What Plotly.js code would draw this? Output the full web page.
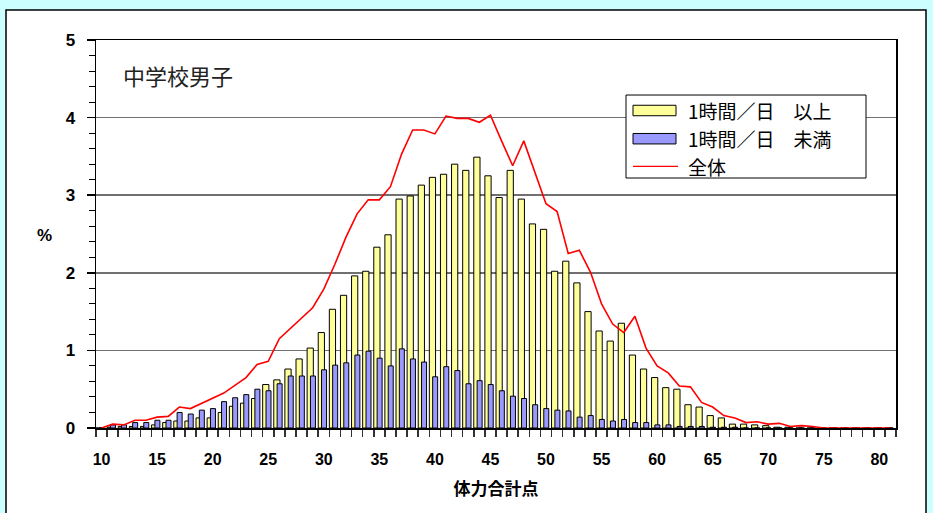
<!DOCTYPE html>
<html>
<head>
<meta charset="utf-8">
<script src="https://cdn.plot.ly/plotly-3.0.1.min.js"></script>
<style>html,body{margin:0;padding:0;background:#ccffff;}#chart{width:933px;height:513px;}</style>
</head>
<body>
<div id="chart"></div>
<script>
// 体力合計点 (total physical fitness score) categories
const scores = [10,11,12,13,14,15,16,17,18,19,20,21,22,23,24,25,26,27,28,29,30,31,32,33,34,35,36,37,38,39,40,41,42,43,44,45,46,47,48,49,50,51,52,53,54,55,56,57,58,59,60,61,62,63,64,65,66,67,68,69,70,71,72,73,74,75,76,77,78,79,80,81];

// 1時間／日 以上 (%)
const over1h = [0,0.01,0.02,0.02,0.02,0.04,0.07,0.09,0.09,0.13,0.13,0.20,0.28,0.32,0.38,0.56,0.62,0.76,0.89,1.03,1.23,1.53,1.71,1.96,2.02,2.33,2.49,2.95,2.99,3.13,3.23,3.27,3.40,3.32,3.49,3.25,2.97,3.32,2.95,2.63,2.56,2.02,2.15,1.87,1.50,1.25,1.12,1.35,0.94,0.76,0.65,0.52,0.50,0.30,0.27,0.16,0.13,0.05,0.05,0.04,0.03,0.01,0.01,0,0,0,0,0,0,0,0,0];

// 1時間／日 未満 (%)
const under1h = [0,0.04,0.04,0.07,0.07,0.10,0.10,0.20,0.18,0.23,0.25,0.34,0.39,0.43,0.50,0.48,0.57,0.67,0.67,0.67,0.75,0.81,0.84,0.94,0.99,0.90,0.80,1.02,0.89,0.85,0.66,0.79,0.74,0.57,0.61,0.56,0.48,0.41,0.38,0.30,0.25,0.23,0.22,0.14,0.16,0.11,0.09,0.11,0.07,0.07,0.04,0.04,0.02,0.02,0.02,0.01,0.01,0.01,0,0,0,0,0,0,0,0,0,0,0,0,0,0];

// 全体 (%)
const total = [0,0.05,0.04,0.10,0.10,0.14,0.15,0.27,0.25,0.32,0.38,0.45,0.55,0.65,0.82,0.86,1.15,1.28,1.41,1.55,1.79,2.11,2.46,2.76,2.94,2.94,3.11,3.53,3.84,3.84,3.79,4.02,3.99,3.99,3.94,4.03,3.70,3.38,3.70,3.28,2.89,2.79,2.25,2.29,2.01,1.60,1.34,1.23,1.44,1.03,0.80,0.71,0.54,0.53,0.33,0.27,0.16,0.13,0.07,0.08,0.05,0.06,0.02,0.03,0.02,0,0,0,0,0,0,0];

const xTickLabels = [10,15,20,25,30,35,40,45,50,55,60,65,70,75,80];
const yTickLabels = [0,1,2,3,4,5];

const seriesNames = ['1時間／日　以上', '1時間／日　未満', '全体'];
const seriesColors = ['#ffff99', '#9999ff', '#ff0000'];
const chartLabel = '中学校男子';
const xTitle = '体力合計点';
const yTitle = '%';

const jp = '"Noto Sans CJK JP", "Liberation Sans", sans-serif';
const num = '"Liberation Sans", Arial, sans-serif';

const boundaries = [];
for (let i = 0; i <= scores.length; i++) boundaries.push(scores[0] - 0.5 + i);

const traces = [
  {
    type: 'bar', name: seriesNames[0], x: scores, y: over1h,
    offset: -0.5, width: 0.56,
    marker: {color: seriesColors[0], line: {color: '#000000', width: 1}}
  },
  {
    type: 'bar', name: seriesNames[1], x: scores, y: under1h,
    offset: -0.2, width: 0.45,
    marker: {color: seriesColors[1], line: {color: '#000000', width: 1}}
  },
  {
    type: 'scatter', mode: 'lines', name: seriesNames[2], x: scores, y: total,
    line: {color: seriesColors[2], width: 1.6}
  }
];

// legend drawn as a boxed key (paper coordinates)
const legBox = {x0: 0.6625, x1: 0.9625, y0: 0.6443, y1: 0.8582};
const legSwX0 = 0.67125, legSwX1 = 0.725, legTextX = 0.7375;
const legRowY = [0.8183, 0.7456, 0.6745];
const legSwH = 0.0135;

const shapes = [
  {type: 'rect', xref: 'paper', yref: 'paper', layer: 'below',
   x0: -0.1125, x1: 1.0375, y0: -0.25, y1: 1.0773,
   fillcolor: '#ffffff', line: {color: '#000000', width: 1.5}},
  {type: 'rect', xref: 'paper', yref: 'paper', layer: 'above',
   x0: legBox.x0, x1: legBox.x1, y0: legBox.y0, y1: legBox.y1,
   fillcolor: '#ffffff', line: {color: '#000000', width: 1}},
  {type: 'rect', xref: 'paper', yref: 'paper', layer: 'above',
   x0: legSwX0, x1: legSwX1, y0: legRowY[0] - legSwH, y1: legRowY[0] + legSwH,
   fillcolor: seriesColors[0], line: {color: '#000000', width: 1}},
  {type: 'rect', xref: 'paper', yref: 'paper', layer: 'above',
   x0: legSwX0, x1: legSwX1, y0: legRowY[1] - legSwH, y1: legRowY[1] + legSwH,
   fillcolor: seriesColors[1], line: {color: '#000000', width: 1}},
  {type: 'line', xref: 'paper', yref: 'paper', layer: 'above',
   x0: legSwX0, x1: 0.7275, y0: legRowY[2], y1: legRowY[2],
   line: {color: seriesColors[2], width: 1.3}}
];

const annotations = [
  {text: chartLabel, xref: 'paper', yref: 'paper', x: 0.031, y: 0.91,
   xanchor: 'left', yanchor: 'middle', showarrow: false,
   font: {family: jp, size: 22, color: '#222'}},
  {text: yTitle, xref: 'paper', yref: 'paper', x: -0.065, y: 0.495,
   xanchor: 'center', yanchor: 'middle', showarrow: false,
   font: {family: num, size: 17, color: '#000', weight: 'bold'}}
];
seriesNames.forEach((n, i) => {
  annotations.push({text: n, xref: 'paper', yref: 'paper', x: legTextX, y: legRowY[i],
    xanchor: 'left', yanchor: 'middle', showarrow: false,
    font: {family: jp, size: 19, color: '#000'}});
});

const layout = {
  width: 933, height: 513,
  margin: {l: 96, r: 37, t: 40, b: 85},
  paper_bgcolor: '#ccffff',
  plot_bgcolor: 'rgba(0,0,0,0)',
  barmode: 'overlay',
  showlegend: false,
  xaxis: {
    range: [scores[0] - 0.5, scores[scores.length - 1] + 0.5],
    tickmode: 'array', tickvals: xTickLabels, ticktext: xTickLabels.map(String),
    ticks: 'outside', ticklen: 16, tickcolor: 'rgba(0,0,0,0)',
    tickfont: {family: num, size: 16, color: '#000', weight: 'bold'},
    showgrid: false, zeroline: false,
    showline: true, linecolor: '#000', linewidth: 1.5, mirror: true,
    minor: {tickmode: 'array', tickvals: boundaries, ticks: 'outside', ticklen: 7, tickcolor: '#333', tickwidth: 1.5, showgrid: false},
    title: {text: xTitle, font: {family: jp, size: 17, color: '#000', weight: 'bold'}, standoff: 16}
  },
  yaxis: {
    range: [0, 5],
    tickmode: 'array', tickvals: yTickLabels, ticktext: yTickLabels.map(String),
    ticks: 'outside', ticklen: 8, tickcolor: '#000', tickwidth: 1.5,
    ticklabelstandoff: 8,
    tickfont: {family: num, size: 17, color: '#000', weight: 'bold'},
    showgrid: true, gridcolor: '#707070', gridwidth: 1.5,
    zeroline: false,
    showline: true, linecolor: '#000', linewidth: 1.5, mirror: true,
    minor: {dtick: 0.2, ticks: 'outside', ticklen: 6, tickcolor: '#000', tickwidth: 1, showgrid: false}
  },
  shapes: shapes,
  annotations: annotations
};

Plotly.newPlot('chart', traces, layout, {displayModeBar: false, staticPlot: true});
</script>
</body>
</html>
